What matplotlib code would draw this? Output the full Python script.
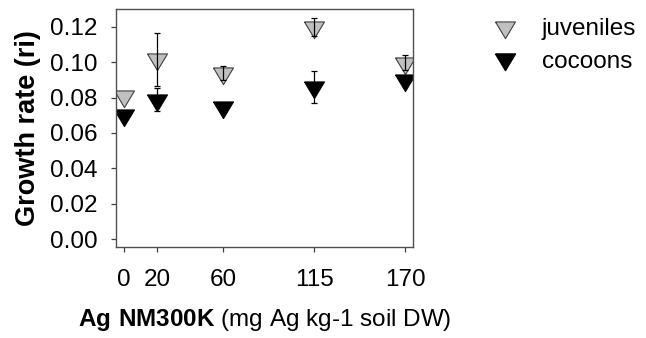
import numpy as np
import matplotlib.pyplot as plt
from matplotlib.lines import Line2D

plt.rcParams['font.family'] = ['Liberation Sans', 'DejaVu Sans']
plt.rcParams['mathtext.fontset'] = 'custom'
plt.rcParams['mathtext.rm'] = 'Liberation Sans'
plt.rcParams['mathtext.bf'] = 'Liberation Sans:bold'

# 數據 (Ag NM300K 濃度), nan = 誤差線被標記遮住
doses = [0, 20, 60, 115, 170]
juveniles = [0.0808, 0.1017, 0.0940, 0.1200, 0.0998]
juveniles_err = [np.nan, 0.015, 0.004, 0.005, 0.004]
cocoons = [0.0699, 0.0789, 0.0747, 0.0860, 0.0902]
cocoons_err = [np.nan, 0.0063, 0.001, 0.009, np.nan]
y_ticks = [0.00, 0.02, 0.04, 0.06, 0.08, 0.10, 0.12]

# 倒三角形, 以重心為中心
tri = [(-0.9, 0.5), (0.9, 0.5), (0, -1.0), (-0.9, 0.5)]
ms = 16

fig = plt.figure(figsize=(6.46, 3.38), dpi=100)
ax = fig.add_axes([0.1796, 0.269, 0.4598, 0.7041])

ax.plot(doses, juveniles, linestyle="none", marker=tri, markersize=ms,
        markerfacecolor="#c0c0c0", markeredgecolor="#404040", markeredgewidth=0.8,
        zorder=2)
ax.plot(doses, cocoons, linestyle="none", marker=tri, markersize=ms,
        markerfacecolor="black", markeredgecolor="black", markeredgewidth=0.8,
        zorder=2)
ax.errorbar(doses, juveniles, yerr=juveniles_err, fmt="none", ecolor="black",
            elinewidth=0.9, capsize=2.5, capthick=0.9, zorder=3)
ax.errorbar(doses, cocoons, yerr=cocoons_err, fmt="none", ecolor="black",
            elinewidth=0.9, capsize=2.5, capthick=0.9, zorder=3)

ax.set_xlim(-4.8, 174.8)
ax.set_ylim(-0.0045, 0.130)
ax.set_xticks(doses)
ax.set_yticks(y_ticks)
ax.set_yticklabels([f"{v:.2f}" for v in y_ticks])
ax.tick_params(direction="out", length=3.5, width=0.9, labelsize=17.5, color="#404040")
ax.tick_params(axis="x", pad=12)
ax.tick_params(axis="y", pad=10)
for sp in ax.spines.values():
    sp.set_color("#505050")
    sp.set_linewidth(1.0)

ax.set_ylabel("Growth rate (ri)", fontsize=19.5, fontweight="bold", labelpad=6)
ax.set_xlabel(r"$\mathbf{Ag\ NM300K}$ (mg Ag kg-1 soil DW)", fontsize=17.5, labelpad=12)

handles = [
    Line2D([], [], linestyle="none", marker=tri, markersize=ms,
           markerfacecolor="#c0c0c0", markeredgecolor="#404040", markeredgewidth=0.8),
    Line2D([], [], linestyle="none", marker=tri, markersize=ms,
           markerfacecolor="black", markeredgecolor="black"),
]
fig.legend(handles, ["juveniles", "cocoons"], loc="upper left",
           bbox_to_anchor=(0.72, 0.997), frameon=False, fontsize=17.5,
           handlelength=1.9, handletextpad=0.55, labelspacing=0.43, borderpad=0.2)

plt.savefig("out.png", dpi=100)
plt.close()
